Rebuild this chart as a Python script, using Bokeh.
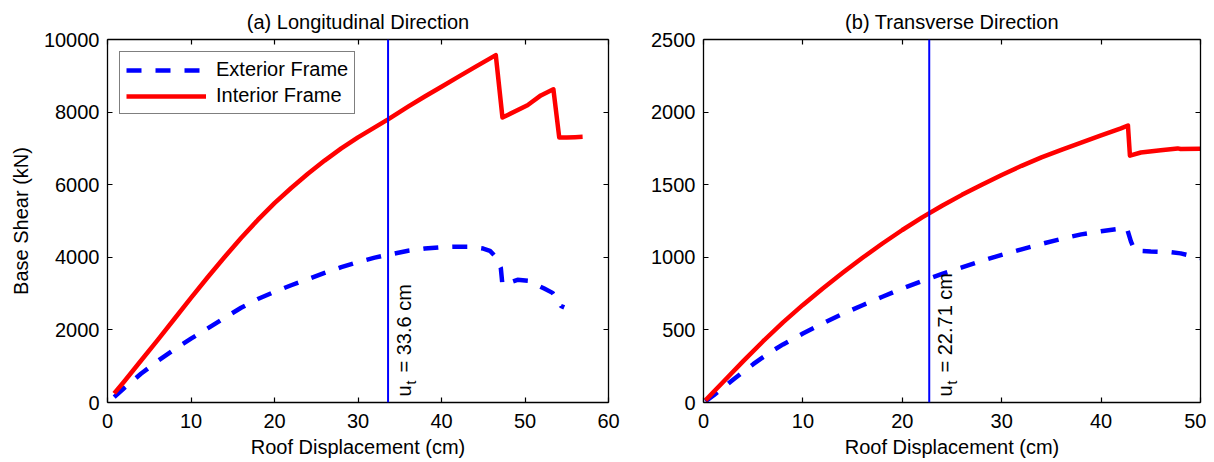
import numpy as np
from bokeh.plotting import figure
from bokeh.models import (LinearAxis, Range1d, Span, Label, Legend, LegendItem,
                          FixedTicker)
from bokeh.layouts import row
from bokeh.embed import file_html
from bokeh.resources import INLINE

FONT = "Liberation Sans"
FS = "20px"
RED = "#ff0000"
BLUE = "#0000ff"

# ---------------- Panel (a) Longitudinal Direction ----------------
long_title = "(a) Longitudinal Direction"
long_int_x = [0.8, 2, 4, 6, 8, 10, 12, 14, 16, 18, 20, 22, 24, 26, 28, 30, 32,
              33.6, 36, 38, 40, 42, 44, 46.5, 47.3, 48, 50.3, 51.9, 53.4, 54.1, 55, 56, 56.9]
long_int_y = [250, 580, 1150, 1720, 2300, 2880, 3450, 4000, 4530, 5030, 5490, 5910, 6300,
              6665, 7000, 7305, 7580, 7800, 8150, 8430, 8700, 8970, 9240, 9570, 7850, 7930,
              8190, 8460, 8630, 7300, 7300, 7310, 7320]
long_ext_x = [0.8, 2, 4, 6, 8, 10, 12, 14, 16, 18, 20, 22, 24, 26, 28, 30, 32, 33.6, 36,
              38, 40, 41.5, 43.5, 45, 45.8, 46.5, 47.1, 47.3, 49.1, 50.5, 51.5, 52.3, 53.3,
              53.9, 54.3, 54.7]
long_ext_y = [150, 400, 790, 1140, 1460, 1760, 2040, 2330, 2610, 2850, 3050, 3230, 3400,
              3570, 3730, 3870, 3990, 4070, 4180, 4240, 4280, 4290, 4290, 4240, 4180, 4010,
              3710, 3240, 3380, 3350, 3230, 3140, 3020, 2830, 2660, 2620]
long_ut = 33.6
long_ut_text = "= 33.6 cm"
long_xticks = [0, 10, 20, 30, 40, 50, 60]
long_yticks = [0, 2000, 4000, 6000, 8000, 10000]

# ---------------- Panel (b) Transverse Direction ----------------
tran_title = "(b) Transverse Direction"
tran_int_x = [0.2, 1, 2, 4, 6, 8, 10, 12, 14, 16, 18, 20, 22, 24, 26, 28, 30, 32, 34, 36,
              38, 40, 42, 42.7, 42.9, 44, 46, 47.7, 48, 50]
tran_int_y = [15, 72, 143, 285, 422, 552, 672, 785, 893, 997, 1095, 1188, 1275, 1355, 1430,
              1500, 1567, 1630, 1688, 1740, 1790, 1840, 1888, 1908, 1700, 1722, 1737, 1750,
              1746, 1748]
tran_ext_x = [0.2, 1, 2, 3, 4, 5, 6, 7, 8, 10, 12, 14, 16, 18, 20, 22, 24, 26, 28, 30, 32,
              34, 36, 38, 40, 41.5, 42.6, 43.0, 43.4, 45, 47, 48, 50]
tran_ext_y = [8, 48, 103, 158, 212, 264, 313, 358, 400, 475, 545, 610, 670, 728, 785, 837,
              885, 930, 975, 1017, 1055, 1092, 1127, 1158, 1180, 1193, 1200, 1110, 1045, 1040,
              1035, 1027, 995]
tran_ut = 22.71
tran_ut_text = "= 22.71 cm"
tran_xticks = [0, 10, 20, 30, 40, 50]
tran_yticks = [0, 500, 1000, 1500, 2000, 2500]

series_names = ["Exterior Frame", "Interior Frame"]


def style_axis(ax, show_labels=True):
    ax.axis_line_color = "black"
    ax.axis_line_width = 1.3
    ax.major_tick_in = 5
    ax.major_tick_out = 0
    ax.minor_tick_in = 0
    ax.minor_tick_out = 0
    ax.major_tick_line_color = "black"
    ax.major_tick_line_width = 1.2
    if show_labels:
        ax.major_label_text_font = FONT
        ax.major_label_text_font_size = FS
        ax.major_label_text_color = "black"
    else:
        ax.major_label_text_font_size = "0px"
        ax.major_label_text_color = None
        ax.major_label_standoff = 0


def make_panel(title, ix, iy, ex, ey, ut, ut_text, xticks, yticks, width,
               border_left, border_right, ylabel=None, legend=False):
    p = figure(width=width, height=460, output_backend="svg", toolbar_location=None,
               x_range=Range1d(xticks[0], xticks[-1]), y_range=Range1d(yticks[0], yticks[-1]),
               min_border_left=border_left, min_border_right=border_right,
               min_border_top=39, min_border_bottom=57)
    p.outline_line_color = None
    p.grid.visible = False
    p.background_fill_color = "white"
    p.border_fill_color = "white"

    p.title.text = title
    p.title.align = "center"
    p.title.text_font = FONT
    p.title.text_font_size = FS
    p.title.text_font_style = "normal"
    p.title.text_color = "black"
    p.title.standoff = 14

    p.xaxis.ticker = FixedTicker(ticks=xticks)
    p.yaxis.ticker = FixedTicker(ticks=yticks)
    p.xaxis.axis_label = "Roof Displacement (cm)"
    p.xaxis.axis_label_text_font = FONT
    p.xaxis.axis_label_text_font_size = FS
    p.xaxis.axis_label_text_font_style = "normal"
    p.xaxis.axis_label_text_color = "black"
    p.xaxis.axis_label_standoff = 5
    if ylabel:
        p.yaxis.axis_label = ylabel
        p.yaxis.axis_label_text_font = FONT
        p.yaxis.axis_label_text_font_size = FS
        p.yaxis.axis_label_text_font_style = "normal"
        p.yaxis.axis_label_text_color = "black"
        p.yaxis.axis_label_standoff = 9
    style_axis(p.xaxis[0])
    style_axis(p.yaxis[0])
    p.xaxis.major_label_standoff = 11
    p.yaxis.major_label_standoff = 8

    top = LinearAxis(ticker=FixedTicker(ticks=xticks))
    style_axis(top, show_labels=False)
    p.add_layout(top, "above")
    right = LinearAxis(ticker=FixedTicker(ticks=yticks))
    style_axis(right, show_labels=False)
    p.add_layout(right, "right")

    r_ext = p.line(ex, ey, line_color=BLUE, line_width=4.5, line_dash="15 14")
    r_int = p.line(ix, iy, line_color=RED, line_width=4.5, line_join="round")

    span = Span(location=ut, dimension="height", line_color=BLUE, line_width=2)
    p.add_layout(span)

    p.add_layout(Label(x=ut, y=yticks[0], x_offset=5, y_offset=6, angle=90, angle_units="deg",
                       text="u", text_font=FONT, text_font_size=FS, text_color="black",
                       text_align="left", text_baseline="top"))
    p.add_layout(Label(x=ut, y=yticks[0], x_offset=15, y_offset=18, angle=90, angle_units="deg",
                       text="t", text_font=FONT, text_font_size="14px", text_color="black",
                       text_align="left", text_baseline="top"))
    p.add_layout(Label(x=ut, y=yticks[0], x_offset=5, y_offset=30, angle=90, angle_units="deg",
                       text=ut_text, text_font=FONT, text_font_size=FS, text_color="black",
                       text_align="left", text_baseline="top"))

    if legend:
        lg = Legend(items=[LegendItem(label=series_names[0], renderers=[r_ext]),
                           LegendItem(label=series_names[1], renderers=[r_int])],
                    location="top_left", margin=12, padding=6, spacing=3,
                    glyph_width=80, glyph_height=20, label_height=20, label_standoff=10,
                    label_text_font=FONT, label_text_font_size=FS,
                    label_text_color="black", label_text_line_height=1.0,
                    border_line_color="black", border_line_width=1.5,
                    background_fill_color="white", background_fill_alpha=1.0)
        p.add_layout(lg)
    return p


p1 = make_panel(long_title, long_int_x, long_int_y, long_ext_x, long_ext_y, long_ut,
                long_ut_text, long_xticks, long_yticks, width=648, border_left=107,
                border_right=40, ylabel="Base Shear (kN)", legend=True)
p2 = make_panel(tran_title, tran_int_x, tran_int_y, tran_ext_x, tran_ext_y, tran_ut,
                tran_ut_text, tran_xticks, tran_yticks, width=558, border_left=52,
                border_right=6)

layout = row(p1, p2, spacing=0)
open("out.html", "w").write(file_html(layout, INLINE))
